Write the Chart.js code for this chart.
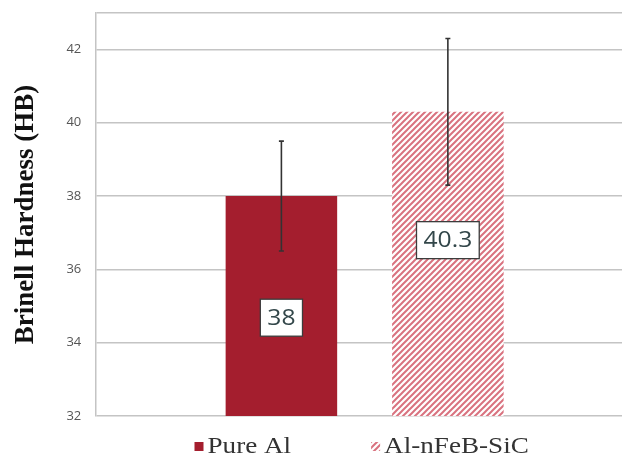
<!DOCTYPE html>
<html>
<head>
<meta charset="utf-8">
<script src="https://cdn.jsdelivr.net/npm/chart.js@4.4.0/dist/chart.umd.min.js"></script>
<style>
    html, body { margin: 0; padding: 0; background: #fff; overflow: hidden; }
    #wrap { width: 622px; height: 459px; overflow: hidden; }
    #hardnessChart { display: block; margin-top: -9px; }
</style>
</head>
<body>
<div id="wrap"><canvas id="hardnessChart" width="634" height="468"></canvas></div>
<script>
const categories = [""];
const seriesNames = ["Pure Al", "Al-nFeB-SiC"];
const hardness = [38, 40.3];
const errorBars = [1.5, 2.0];
const yTicks = [32, 34, 36, 38, 40, 42];
const yMin = 32;
const yMax = 43;

const solidRed = "#a41e2e";
const hatchRed = "#d9727f";

// diagonal hatch like the Excel pattern fill
function makeHatch() {
    const c = document.createElement("canvas");
    c.width = 6; c.height = 6;
    const g = c.getContext("2d");
    g.fillStyle = "#fff";
    g.fillRect(0, 0, 6, 6);
    g.strokeStyle = hatchRed;
    g.lineWidth = 2;
    g.beginPath();
    g.moveTo(-1, 7); g.lineTo(7, -1);
    g.moveTo(-4, 4); g.lineTo(4, -4);
    g.moveTo(2, 10); g.lineTo(10, 2);
    g.stroke();
    return g.createPattern(c, "repeat");
}
const hatch = makeHatch();
const fills = [solidRed, hatch];

// error bars, value boxes and legend drawn on top of the bars
const extrasPlugin = {
    id: "extras",
    afterDatasetsDraw(chart) {
        const ctx = chart.ctx;
        const y = chart.scales.y;

        // error bars
        ctx.save();
        ctx.strokeStyle = "#333";
        ctx.lineWidth = 1.6;
        hardness.forEach((v, i) => {
            const bar = chart.getDatasetMeta(i).data[0];
            const top = y.getPixelForValue(v + errorBars[i]);
            const bot = y.getPixelForValue(v - errorBars[i]);
            ctx.beginPath();
            ctx.moveTo(bar.x, top); ctx.lineTo(bar.x, bot);
            ctx.moveTo(bar.x - 2.5, top); ctx.lineTo(bar.x + 2.5, top);
            ctx.moveTo(bar.x - 2.5, bot); ctx.lineTo(bar.x + 2.5, bot);
            ctx.stroke();
        });
        ctx.restore();

        // value boxes (placed where the original labels sit inside the bars)
        const rise = [0.447, 0.578];
        ctx.save();
        ctx.font = "22px 'Open Sans'";
        ctx.textAlign = "center";
        ctx.textBaseline = "middle";
        hardness.forEach((v, i) => {
            const bar = chart.getDatasetMeta(i).data[0];
            const cy = y.getPixelForValue(yMin + (v - yMin) * rise[i]);
            const txt = String(v);
            const w = ctx.measureText(txt).width * 1.12 + 14;
            const h = 37;
            ctx.fillStyle = "#fff";
            ctx.fillRect(bar.x - w / 2, cy - h / 2, w, h);
            ctx.strokeStyle = "#3c3c3c";
            ctx.lineWidth = 1.3;
            ctx.strokeRect(bar.x - w / 2, cy - h / 2, w, h);
            ctx.fillStyle = "#33474a";
            ctx.save();
            ctx.translate(bar.x, cy + 1);
            ctx.scale(1.12, 1);
            ctx.fillText(txt, 0, 0);
            ctx.restore();
        });
        ctx.restore();
    },
    afterDraw(chart) {
        const ctx = chart.ctx;
        const area = chart.chartArea;
        const sx = 1.13;
        const gap = 80;
        const legendY = 456;
        ctx.save();
        ctx.font = "24px 'Liberation Serif'";
        ctx.textBaseline = "middle";
        const widths = seriesNames.map(s => ctx.measureText(s).width * sx);
        const total = widths.reduce((a, b) => a + b, 0) + seriesNames.length * 13 + gap;
        let x = (area.left + area.right) / 2 - total / 2 - 3;
        seriesNames.forEach((name, i) => {
            ctx.fillStyle = fills[i];
            ctx.fillRect(x, legendY - 5, 9, 9);
            x += 13;
            ctx.fillStyle = "#333";
            ctx.save();
            ctx.translate(x, legendY);
            ctx.scale(sx, 1);
            ctx.fillText(name, 0, 0);
            ctx.restore();
            x += widths[i] + gap;
        });
        ctx.restore();
    }
};

new Chart(document.getElementById("hardnessChart"), {
    type: "bar",
    data: {
        labels: categories,
        datasets: seriesNames.map((name, i) => ({
            label: name,
            data: [hardness[i]],
            backgroundColor: fills[i],
            borderWidth: 0,
            categoryPercentage: 0.618,
            barPercentage: 0.67
        }))
    },
    options: {
        responsive: false,
        animation: false,
        layout: { padding: { top: 0, right: 0, bottom: 43, left: 0 } },
        scales: {
            x: { display: false },
            y: {
                min: yMin,
                max: yMax,
                afterBuildTicks: axis => { axis.ticks = [...yTicks, yMax].map(v => ({ value: v })); },
                ticks: {
                    padding: 14,
                    color: "#555",
                    font: { family: "'Open Sans'", size: 13 },
                    callback: v => yTicks.includes(v) ? v : ""
                },
                grid: { color: "#c4c4c4", lineWidth: 1.5, drawTicks: false },
                border: { display: true, color: "#c4c4c4", width: 1.5 },
                title: {
                    display: true,
                    text: "Brinell Hardness (HB)",
                    color: "#111",
                    font: { family: "'Liberation Serif'", size: 27, weight: "bold" },
                    padding: { top: 10, bottom: 10 }
                }
            }
        },
        plugins: {
            legend: { display: false },
            tooltip: { enabled: false }
        }
    },
    plugins: [extrasPlugin]
});
</script>
</body>
</html>
